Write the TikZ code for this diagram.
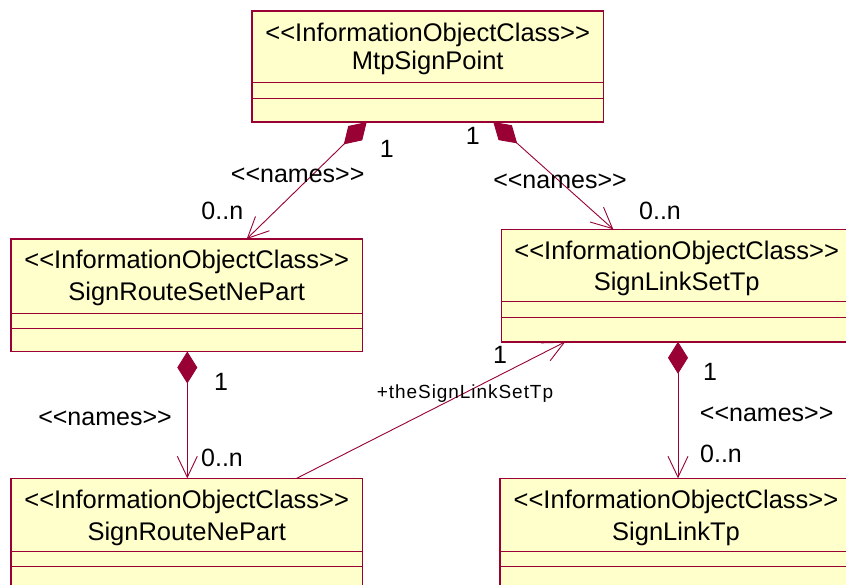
\documentclass[tikz,border=0pt]{standalone}
\usepackage{fontspec}
\setmainfont{Liberation Sans}
\newfontfamily\spacedfont{Liberation Sans}[LetterSpace=5]
\usetikzlibrary{arrows.meta}
\definecolor{umlred}{HTML}{990033}
\definecolor{umlfill}{HTML}{FFFFCC}
\begin{document}
\begin{tikzpicture}[x=1pt,y=-1pt,
  box/.style={draw=umlred, fill=umlfill, line width=1.4pt, rectangle, anchor=north west,
    inner sep=0pt, outer sep=0pt, minimum width=351.5pt, minimum height=112.5pt},
  sepline/.style={draw=umlred, line width=0.9pt},
  btxt/.style={font=\fontsize{25.5}{29}\selectfont, anchor=base, inner sep=0pt},
  lbl/.style={font=\fontsize{25}{29}\selectfont, anchor=base, inner sep=0pt},
  rolelbl/.style={font=\spacedfont\fontsize{19}{22}\selectfont, anchor=base, inner sep=0pt},
  comp/.style={draw=umlred, line width=0.9pt,
    {Diamond[length=32pt,width=20pt]}-{Straight Barb[length=21pt,width=20pt]}},
  assoc/.style={draw=umlred, line width=0.9pt, -{Straight Barb[length=21pt,width=20pt]}}
]
\useasboundingbox (0,0) rectangle (846,585);
\fill[white] (0,0) rectangle (846,585);
\clip (0,0) rectangle (846,585);

% boxes
\node[box, minimum height=111pt] (A) at (252,11) {};
\node[box] (B) at (11,239) {};
\node[box] (C) at (501.7,229.3) {};
\node[box] (D) at (11,478.3) {};
\node[box] (E) at (500,478.3) {};

% compartments
\draw[sepline] ([yshift=-71.3pt]A.north west) -- ([yshift=-71.3pt]A.north east);
\draw[sepline] ([yshift=-87.7pt]A.north west) -- ([yshift=-87.7pt]A.north east);
\draw[sepline] ([yshift=-74.7pt]B.north west) -- ([yshift=-74.7pt]B.north east);
\draw[sepline] ([yshift=-89.3pt]B.north west) -- ([yshift=-89.3pt]B.north east);
\draw[sepline] ([yshift=-71.7pt]C.north west) -- ([yshift=-71.7pt]C.north east);
\draw[sepline] ([yshift=-87.7pt]C.north west) -- ([yshift=-87.7pt]C.north east);
\draw[sepline] ([yshift=-73.4pt]D.north west) -- ([yshift=-73.4pt]D.north east);
\draw[sepline] ([yshift=-88.4pt]D.north west) -- ([yshift=-88.4pt]D.north east);
\draw[sepline] ([yshift=-73.4pt]E.north west) -- ([yshift=-73.4pt]E.north east);
\draw[sepline] ([yshift=-88.4pt]E.north west) -- ([yshift=-88.4pt]E.north east);

% box texts
\node[btxt] (A1) at ([yshift=-30.7pt]A.north) {<{}<InformationObjectClass>{}>};
\node[btxt] (A2) at ([yshift=-59pt]A.north) {MtpSignPoint};
\node[btxt] (B1) at ([yshift=-29.3pt]B.north) {<{}<InformationObjectClass>{}>};
\node[btxt] (B2) at ([yshift=-62pt]B.north) {SignRouteSetNePart};
\node[btxt] (C1) at ([xshift=175pt,yshift=-30.7pt]C.north west) {<{}<InformationObjectClass>{}>};
\node[btxt] (C2) at ([xshift=175pt,yshift=-61.7pt]C.north west) {SignLinkSetTp};
\node[btxt] (D1) at ([yshift=-30pt]D.north) {<{}<InformationObjectClass>{}>};
\node[btxt] (D2) at ([yshift=-62.4pt]D.north) {SignRouteNePart};
\node[btxt] (E1) at ([xshift=176pt,yshift=-30pt]E.north west) {<{}<InformationObjectClass>{}>};
\node[btxt] (E2) at ([xshift=176pt,yshift=-62.4pt]E.north west) {SignLinkTp};

% connectors
\draw[comp] ([xshift=114.7pt]A.south west) -- ([xshift=235.7pt]B.north west);
\draw[comp] ([xshift=241.3pt]A.south west) -- ([xshift=111.6pt]C.north west);
\draw[comp] ([xshift=176.3pt]B.south west) -- ([xshift=176.3pt]D.north west);
\draw[comp] ([xshift=176.3pt]C.south west) -- ([xshift=178pt]E.north west);
\draw[assoc] ([xshift=285.7pt]D.north west) -- ([xshift=63.6pt]C.south west);

% labels
\node[lbl] (m1) at (386.7,157.7) {1};
\node[lbl] (n1) at (297.7,182.7) {<{}<names>{}>};
\node[lbl] (k1) at (222.3,219.3) {0..n};
\node[lbl] (m2) at (472.7,145) {1};
\node[lbl] (n2) at (560,188.3) {<{}<names>{}>};
\node[lbl] (k2) at (660,219.3) {0..n};
\node[lbl] (m3) at (221,390) {1};
\node[lbl] (n3) at (105,425) {<{}<names>{}>};
\node[lbl] (k3) at (222,466.7) {0..n};
\node[lbl] (m4) at (710,380.7) {1};
\node[lbl] (n4) at (766.7,421.7) {<{}<names>{}>};
\node[lbl] (k4) at (721,462.7) {0..n};
\node[lbl] (m5) at (500,363) {1};
\node[rolelbl] (r5) at (465,398.3) {+theSignLinkSetTp};
\end{tikzpicture}
\end{document}
